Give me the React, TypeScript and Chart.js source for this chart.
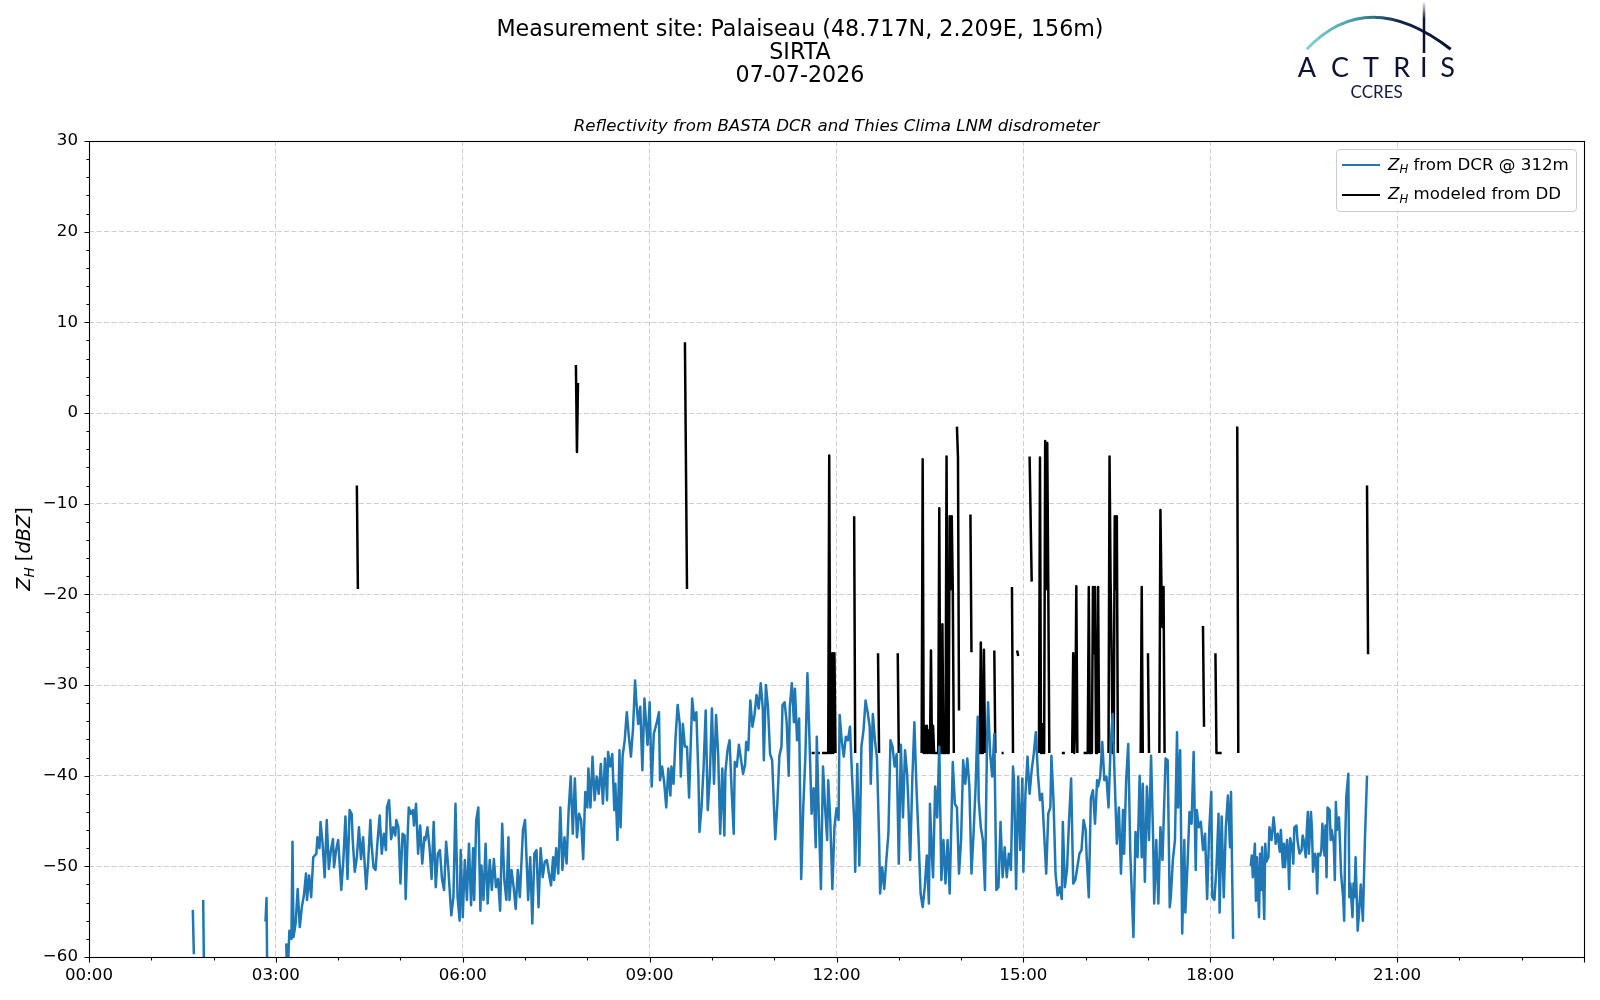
import React, { useEffect, useRef } from 'react';
import { Chart, registerables } from 'chart.js';

Chart.register(...registerables);

type Pt = [number, number | null];

// x values: minutes after 00:00 ; y values: dBZ
const timeTickLabels = ['00:00', '03:00', '06:00', '09:00', '12:00', '15:00', '18:00', '21:00'];
const hourTickMinutes = Array.from({ length: 25 }, (_, i) => i * 60);
const zTickValues = Array.from({ length: 46 }, (_, i) => -60 + 2 * i);

const dcrEarly: Pt[] = [
  [100, -54.8], [101, -59.7], [105, null], [110, -53.7], [111, -64], [140, null],
  [170, -56.1], [171, -53.5], [172, -66], [180, null], [190, -58.5], [191, -63],
];

const dcrMorning: Pt[] = [
  [193, -57.1], [195, -58], [196, -47.3], [197, -57.8], [199, -56.3], [201, -52.5], [203, -56.7], [205, -54.5],
  [207, -53.2], [209, -50.8], [210, -53.7], [212, -51], [214, -53.4], [216, -49], [219, -48.6], [220, -46.8],
  [222, -48], [223, -45.1], [225, -47.5], [227, -51.2], [229, -44.9], [231, -50.3], [233, -48.2], [235, -47],
  [236, -50.1], [238, -48.2], [240, -47.1], [243, -52.6], [245, -49.3], [247, -44.5], [249, -51.4], [251, -43.8],
  [253, -44.2], [254, -47.1], [256, -50.6], [258, -49], [260, -45.7], [262, -49.2], [264, -46.8], [267, -52.5],
  [269, -49.3], [271, -44.9], [272, -47.3], [274, -50.1], [276, -50.4], [278, -47.1], [280, -44.4], [282, -48.6],
  [284, -46.4], [286, -48.2], [287, -43.5], [289, -42.7], [291, -47], [293, -45.7], [295, -46.6], [296, -44.9],
  [298, -45.7], [300, -51.9], [302, -46.4], [304, -46.6], [305, -53.6], [307, -46.4], [308, -43.5], [310, -44.2],
  [312, -43.8], [313, -45.5], [315, -43.1], [317, -48.6], [319, -45.5], [321, -49.7], [323, -46.8], [324, -47.1],
  [326, -45.7], [328, -47.9], [330, -51.4], [332, -45.1], [334, -52.3], [336, -48.6], [338, -48.2], [340, -51.4],
  [342, -52.6], [344, -47.3], [346, -50.1], [348, -53.7],
];

const dcrMidday: Pt[] = [
  [349, -55.4], [351, -53.4], [353, -43.1], [355, -53.4], [357, -56], [358, -48.2], [360, -55.6], [362, -49.3],
  [364, -53.7], [366, -47.5], [368, -54.3], [370, -48], [371, -53.7], [373, -44.9], [375, -43.5], [377, -54.9],
  [378, -49.9], [380, -53.7], [382, -47.5], [384, -54.1], [386, -49.3], [388, -52.6], [390, -49.2], [392, -52.3],
  [394, -51.4], [396, -54.9], [398, -45.3], [400, -51.5], [402, -53.7], [404, -46.8], [405, -53.7], [407, -50.4],
  [409, -52.3], [411, -54.7], [413, -50.4], [415, -53.4], [418, -46], [420, -44.9], [423, -53.7], [425, -49],
  [427, -56.3], [429, -48.6], [431, -48.2], [433, -54.5], [435, -48], [437, -51.2], [439, -49.5], [441, -49.3],
  [443, -50.8], [445, -52.1], [447, -49], [448, -51.5], [450, -48], [452, -50.8], [454, -43.5], [456, -50.4],
  [458, -46.8], [460, -49.7], [462, -43.8], [464, -40.1], [466, -46.4], [468, -40.3], [470, -46.8], [472, -44.2],
  [474, -44.9], [476, -49.2], [478, -41.8], [480, -43.5], [481, -39.2], [483, -43.5], [485, -37.9], [487, -42.7],
  [489, -40.1], [491, -42], [493, -38.7], [495, -43.1], [497, -38.1], [499, -42.7], [500, -37.4], [502, -39],
  [504, -37.6], [506, -43.8], [507, -40.9], [509, -47.1], [511, -37.2], [512, -45.7], [514, -37.8], [516, -36.1],
  [518, -33], [520, -35.7], [522, -37.9], [524, -34.8], [526, -29.5], [527, -31.5], [529, -34.3], [531, -32.4],
  [533, -39.4], [535, -31.5], [536, -33.2], [538, -36.6], [540, -31.9], [542, -41.2], [544, -35.4], [547, -34.1],
  [549, -33], [550, -40.5], [552, -39], [554, -40.7], [556, -43.5], [558, -39.2], [560, -42.2], [561, -39],
  [563, -40.9], [565, -35.7], [567, -32.2], [569, -34.3], [570, -40.1], [572, -34.3], [574, -36.8], [576, -36.8],
  [578, -42.4], [581, -31.5], [583, -33.9], [585, -33], [587, -40.1], [588, -46.2], [590, -43.5], [592, -39],
  [594, -32.8], [596, -43.8], [598, -40.1], [600, -32.6], [602, -40.9], [604, -33.3], [606, -37.6], [608, -46.4],
  [610, -39.2], [612, -46.6], [613, -39.6], [615, -37.2], [617, -36.1], [619, -41.6], [621, -46.4], [622, -38.5],
  [624, -39], [626, -36.6],
];

const dcrNoon: Pt[] = [
  [630, -39.8], [632, -38.7], [633, -36.3], [635, -37.2], [637, -31.7], [639, -34.6], [641, -33.3], [643, -31.1],
  [645, -32.6], [647, -29.8], [649, -32.6], [650, -38.3], [652, -30], [654, -32.4], [656, -37.6], [658, -38.3],
  [659, -41.2], [661, -47], [663, -43.1], [665, -37.8], [667, -36.8], [668, -32.2], [670, -31.9], [672, -34.1],
  [674, -40], [675, -32.4], [677, -29.8], [679, -34.1], [680, -30.4], [682, -36.1], [684, -33.7], [686, -51.4],
  [688, -43.5], [690, -37.9], [692, -28.7], [694, -36.1], [696, -44.2], [698, -41.4], [700, -47.9], [701, -35.7],
  [703, -44.6], [705, -52.5], [707, -39], [709, -43.5], [711, -47.1], [712, -40.5], [714, -44.9], [716, -52.5],
  [718, -45.7], [720, -43.6], [722, -44.9], [723, -33.3], [725, -36.1], [727, -37.9], [729, -35.7], [731, -36.1],
  [733, -34.6], [735, -40.1], [737, -44.9], [738, -50.6], [740, -38.7], [742, -49.9], [744, -36.8], [746, -35],
  [748, -31.7], [750, -33], [752, -34.6], [753, -40.9], [755, -33.2], [757, -36.1], [759, -38.1], [761, -46.8],
  [762, -53], [764, -50.1], [766, -52.5], [768, -49.3], [770, -46.4], [772, -36.1], [774, -36.8], [776, -39],
  [778, -37.6], [780, -49.7], [782, -36.6], [784, -44.6], [786, -37.2], [788, -39.8], [789, -42.4], [791, -49.3],
  [793, -40.5], [795, -34.1], [797, -41.2], [799, -46.8], [801, -53], [803, -54.5], [805, -52.3], [807, -48.8],
  [809, -54.1], [810, -43.1], [812, -49], [813, -51.2], [815, -41.2], [817, -44.6], [819, -36.8], [821, -51.5],
  [823, -47.1], [825, -51.9], [827, -47.1], [829, -53], [831, -43.5], [832, -38.5], [834, -43.1], [836, -43.5],
  [838, -50.8], [840, -47.1], [842, -38.3], [844, -40.9], [846, -38.1], [848, -41.2], [850, -50.8], [852, -46.4],
  [854, -41.2], [856, -33.5], [857, -42.7], [859, -45.7], [861, -47.1], [863, -52.6], [865, -36.1], [866, -31.9],
  [868, -37.6], [870, -40.1], [872, -35.4], [874, -52.6], [876, -52.3], [878, -45.1], [880, -51.2], [882, -47.9],
  [884, -51.2], [886, -48.6], [888, -50.4], [890, -39], [891, -40.5], [893, -52.5], [895, -40.1], [897, -48.2],
  [899, -40.3], [900, -50.6], [902, -42], [904, -37.9], [906, -42], [908, -39.4], [910, -37.6], [912, -35.2],
  [914, -39.8], [916, -42.7],
];

const dcrAfternoon: Pt[] = [
  [918, -42], [920, -46.4], [922, -50.8], [924, -44.2], [926, -43.5], [927, -37.8], [929, -42.7], [931, -50.8],
  [933, -53.2], [935, -52.3], [937, -53.6], [938, -45.1], [940, -52.3], [942, -50.4], [944, -44.9], [946, -40.3],
  [948, -51.9], [950, -51.5], [952, -50.1], [954, -48.6], [956, -48.2], [958, -44.9], [960, -46], [961, -49],
  [963, -53.4], [965, -42.5], [967, -41.6], [969, -45.3], [971, -40.5], [972, -41.2], [974, -40.1], [976, -36.3],
  [978, -40.5], [980, -40.1], [982, -43.5], [984, -36.8], [986, -33.2], [988, -40.5], [990, -47.5], [992, -43.5],
  [994, -50.8], [996, -43.8], [997, -48.6], [999, -40.5], [1001, -36.5], [1003, -48.6], [1006, -57.8], [1008, -46.2],
  [1010, -49], [1012, -40], [1014, -49], [1015, -40.9], [1017, -51.7], [1019, -41.2], [1021, -47.1], [1023, -37.8],
  [1025, -47.1], [1026, -54.1], [1028, -47.1], [1030, -54.1], [1032, -45.7], [1034, -49.3], [1037, -38.1], [1039, -38.3],
  [1041, -54.5], [1042, -53.4], [1044, -49.3], [1046, -47.1], [1048, -35.2], [1049, -43.5], [1051, -37.2], [1053, -57.4],
  [1055, -47.1], [1056, -55.1], [1058, -50.1], [1060, -44], [1062, -45.3], [1064, -37.4], [1066, -50.4], [1067, -43.8],
  [1069, -45.7], [1071, -45.1], [1073, -48.2], [1075, -46.4], [1077, -53.6], [1079, -46], [1081, -41.8], [1082, -53.4],
  [1084, -53.7], [1086, -50.1], [1088, -44.2], [1089, -55.1], [1091, -44.5], [1093, -53.4], [1095, -45.7], [1097, -42.2],
  [1099, -47.9], [1100, -41.8], [1102, -58], [1110, null],
];

const dcrEvening: Pt[] = [
  [1119, -50], [1120, -48.8], [1121, -51.2], [1123, -47.5], [1124, -53.8], [1125, -49], [1127, -55.6], [1128, -48.6],
  [1129, -52.6], [1130, -47.9], [1132, -55.8], [1133, -47.5], [1134, -49.5], [1136, -49], [1137, -45.7], [1138, -46.4],
  [1139, -47.1], [1141, -44.6], [1142, -45.7], [1143, -47.5], [1145, -46.4], [1146, -47.5], [1147, -48.4], [1148, -46],
  [1150, -50.1], [1151, -47.5], [1152, -50.1], [1154, -47.1], [1155, -48.6], [1156, -52.5], [1157, -46.9], [1159, -48],
  [1160, -49.7], [1161, -45.7], [1163, -45.5], [1164, -47.1], [1165, -47.9], [1166, -48.6], [1168, -48.2], [1169, -46.6],
  [1170, -47.1], [1172, -49], [1173, -46], [1174, -44], [1175, -48.6], [1177, -44], [1178, -46], [1179, -50.6],
  [1181, -48.6], [1182, -49.3], [1183, -53], [1184, -48.6], [1186, -48.8], [1187, -48.2], [1188, -45.3], [1190, -48.8],
  [1191, -45.5], [1192, -51.2], [1193, -43.5], [1195, -43.8], [1196, -47.1], [1197, -46], [1199, -47.5], [1200, -51.5],
  [1201, -42.9], [1202, -46], [1204, -44.6], [1205, -47.5], [1206, -50.8], [1208, -53.4], [1209, -56], [1210, -47.1],
  [1211, -42.4], [1213, -39.8], [1214, -53.4], [1215, -51.9], [1217, -55.6], [1218, -51.9], [1219, -53.4], [1220, -49],
  [1222, -57.1], [1223, -55.6], [1225, -52], [1227, -56], [1229, -47], [1231, -40],
];

const ddMorning: Pt[] = [
  [258, -8], [259, -19.4], [260, null],
  [469, 5.3], [470, -4.3], [471, 3.3], [472, null],
  [574, 7.8], [576, -19.4], [577, null],
];

const ddMidday: Pt[] = [
  [696, -37.5], [697, -37.5], [698, -37.5], [699, -37.5], [700, null],
  [701, -37.5], [702, -37.5], [703, -37.5], [704, -37.5], [705, null],
  [706, -37.5], [707, -37.5], [708, -37.5], [709, -37.5], [710, -37.5], [711, -37.5], [712, -37.5],
  [713, -4.7], [714, -37.5], [715, -37.5], [716, -26.5], [717, -37.5], [718, -26.5], [719, -37.5], [720, null],
  [737, -11.4], [738, -37.5], [739, null],
  [760, -26.5], [761, -37.5], [762, null],
  [779, -26.5], [780, -37.5], [781, null],
];

const ddAfternoon: Pt[] = [
  [802, -37.5], [803, -5.1], [804, -37.5], [805, -34.5], [806, -37.5], [807, -34.5], [808, -37.5], [809, -35],
  [810, -37.5], [811, -26.2], [812, -37.5], [813, -34.5], [814, -37.5], [815, -37.5], [816, -37.5], [817, -37.5],
  [818, -37.5], [819, -10.5], [820, -37.5], [821, -37.5], [822, -23.3], [823, -37.5], [824, -37.5], [825, -37.5],
  [826, -4.8], [827, -37.5], [828, -37.5], [829, -11.4], [830, -19.4], [831, -11.4], [832, -19.4], [833, -37.5],
  [834, null],
  [836, -1.5], [837, -4.9], [838, -32.8], [839, null],
  [849, -11.2], [850, -26.4], [851, null],
  [856, -37.5], [857, -37.5], [858, -37.5], [859, -25.3], [860, -37.5], [861, -37.5], [862, -26.1], [863, -37.5],
  [864, null],
  [872, -26.2], [873, -37.5], [874, null],
  [879, -37.5], [880, -37.5], [881, -37.5], [882, null],
  [889, -19.2], [890, -37.5], [891, null],
  [894, -26.2], [895, -26.8], [896, null],
];

const ddLate: Pt[] = [
  [906, -4.8], [908, -18.6], [909, null],
  [915, -37.5], [916, -4.9], [917, -37.5], [918, -37.5], [919, -34.3], [920, -37.5], [921, -3.1], [922, -19.4],
  [923, -3.3], [924, -19.4], [925, -37.5], [926, null],
  [937, -37.5], [938, -37.5], [939, -37.5], [940, -37.5], [941, null],
  [947, -37.5], [948, -26.5], [949, -37.5], [950, -34.4], [951, -19.1], [952, -37.5], [953, null],
  [958, -37.5], [959, -37.5], [960, -37.5], [961, -37.5], [962, -37.5], [963, -19.2], [964, -37.5], [965, -37.5],
  [966, -37.5], [967, -19.2], [968, -26.5], [969, -19.2], [970, -37.5], [971, -37.5], [972, -19.2], [973, -37.5],
  [974, null],
  [982, -37.5], [983, -4.8], [984, -18.5], [985, -26.7], [986, -37.5], [987, -37.5], [988, -11.4], [989, -19.4],
  [990, -11.4], [991, -37.5], [992, null],
  [1013, -37.5], [1014, -19.2], [1015, -37.5], [1016, null],
  [1020, -26.5], [1021, -37.5], [1022, null],
  [1031, -37.5], [1032, -10.7], [1033, -19.2], [1034, -23.6], [1035, -19.2], [1036, -37.5], [1037, null],
  [1073, -23.5], [1074, -34.6], [1075, null],
  [1085, -26.5], [1086, -37.5], [1087, -37.5], [1088, -37.5], [1089, -37.5], [1090, -37.5], [1091, -37.5], [1092, null],
  [1106, -1.5], [1107, -37.5], [1108, null],
  [1231, -8], [1232, -26.6],
];

const FONT = '"DejaVu Sans", "Liberation Sans", sans-serif';
const GRID = '#cfcfcf';
const LINE_W = 2.5;

const frameTicksPlugin = {
  id: 'frameTicks',
  afterDraw(chart: any) {
    const { ctx, chartArea: a, scales } = chart;
    const x = scales.x;
    const y = scales.y;
    const L = Math.round(a.left) + 0.5;
    const R = Math.round(a.right) + 0.5;
    const T = Math.round(a.top) + 0.5;
    const B = Math.round(a.bottom) + 0.5;
    ctx.save();
    ctx.strokeStyle = '#000';
    ctx.lineWidth = 1.1;
    ctx.strokeRect(L, T, R - L, B - T);
    ctx.beginPath();
    hourTickMinutes.forEach((m) => {
      const px = Math.round(x.getPixelForValue(m)) + 0.5;
      const len = m % 180 === 0 ? 5 : 3;
      ctx.moveTo(px, B);
      ctx.lineTo(px, B + len);
    });
    zTickValues.forEach((v) => {
      const py = Math.round(y.getPixelForValue(v)) + 0.5;
      const len = v % 10 === 0 ? 5 : 3;
      ctx.moveTo(L, py);
      ctx.lineTo(L - len, py);
    });
    ctx.stroke();
    ctx.restore();
  },
};

const sub: React.CSSProperties = { fontSize: '70%', position: 'relative', top: '0.3em', fontStyle: 'italic' };

export default function App() {
  const ref = useRef<HTMLCanvasElement>(null);

  useEffect(() => {
    const toXY = (pts: Pt[]) => pts.map(([x, y]) => ({ x, y }));
    const dcr = toXY([...dcrEarly, ...dcrMorning, ...dcrMidday, ...dcrNoon, ...dcrAfternoon, ...dcrEvening]);
    const dd = toXY([...ddMorning, ...ddMidday, ...ddAfternoon, ...ddLate]);

    const chart = new Chart(ref.current as HTMLCanvasElement, {
      type: 'line',
      data: {
        datasets: [
          {
            label: 'Z_H from DCR @ 312m',
            data: dcr as any,
            borderColor: '#1f77b4',
            backgroundColor: '#1f77b4',
            borderWidth: LINE_W,
            pointRadius: 0,
            tension: 0,
            spanGaps: false,
            borderJoinStyle: 'round',
            borderCapStyle: 'butt',
            clip: 0,
          },
          {
            label: 'Z_H modeled from DD',
            data: dd as any,
            borderColor: '#000000',
            backgroundColor: '#000000',
            borderWidth: LINE_W,
            pointRadius: 0,
            tension: 0,
            spanGaps: false,
            borderJoinStyle: 'round',
            borderCapStyle: 'butt',
            clip: 0,
          },
        ],
      },
      options: {
        animation: false,
        responsive: false,
        devicePixelRatio: 1,
        events: [],
        layout: { padding: { left: 0, top: 141, right: 16, bottom: 0 } },
        plugins: {
          legend: { display: false },
          title: { display: false },
          tooltip: { enabled: false },
        },
        scales: {
          x: {
            type: 'linear',
            min: 0,
            max: 1440,
            afterBuildTicks: (s: any) => {
              s.ticks = hourTickMinutes.map((v) => ({ value: v }));
            },
            afterFit: (s: any) => {
              s.height = 43;
            },
            ticks: {
              autoSkip: false,
              maxRotation: 0,
              minRotation: 0,
              padding: 9,
              color: '#000',
              font: { family: FONT, size: 16.67 },
              callback: (v: any) => (v % 180 === 0 && v < 1440 ? timeTickLabels[v / 180] : ''),
            },
            grid: {
              drawTicks: false,
              lineWidth: 1,
              color: (c: any) => {
                const v = c.tick ? c.tick.value : -1;
                return v > 0 && v < 1440 && v % 180 === 0 ? GRID : 'rgba(0,0,0,0)';
              },
            },
            border: { display: false, dash: [5, 2.5] },
          },
          y: {
            type: 'linear',
            min: -60,
            max: 30,
            afterBuildTicks: (s: any) => {
              s.ticks = zTickValues.map((v) => ({ value: v }));
            },
            afterFit: (s: any) => {
              s.width = 89;
            },
            ticks: {
              autoSkip: false,
              padding: 11,
              color: '#000',
              font: { family: FONT, size: 16.67 },
              callback: (v: any) => (v % 10 === 0 ? (v < 0 ? '\u2212' + Math.abs(v) : String(v)) : ''),
            },
            grid: {
              drawTicks: false,
              lineWidth: 1,
              color: (c: any) => {
                const v = c.tick ? c.tick.value : -100;
                return v > -60 && v < 30 && v % 10 === 0 ? GRID : 'rgba(0,0,0,0)';
              },
            },
            border: { display: false, dash: [5, 2.5] },
          },
        },
      },
      plugins: [frameTicksPlugin],
    });
    return () => chart.destroy();
  }, []);

  const lineDiv = (top: number, text: string, size: number): React.ReactElement => (
    <div
      style={{
        position: 'absolute',
        left: 0,
        top,
        width: 1600,
        textAlign: 'center',
        fontFamily: FONT,
        fontSize: size,
        lineHeight: '26px',
        color: '#000',
        whiteSpace: 'nowrap',
      }}
    >
      {text}
    </div>
  );

  return (
    <div style={{ position: 'absolute', left: 0, top: 0, width: 1600, height: 1000, background: '#fff', overflow: 'hidden' }}>
      <canvas ref={ref} width={1600} height={1000} style={{ position: 'absolute', left: 0, top: 0, width: 1600, height: 1000 }} />

      {lineDiv(15, 'Measurement site: Palaiseau (48.717N, 2.209E, 156m)', 22.2)}
      {lineDiv(38, 'SIRTA', 22.2)}
      {lineDiv(61, '07-07-2026', 22.2)}

      <div
        style={{
          position: 'absolute',
          left: 0,
          top: 116,
          width: 1673,
          textAlign: 'center',
          fontFamily: FONT,
          fontStyle: 'italic',
          fontSize: 16.67,
          lineHeight: '20px',
          whiteSpace: 'nowrap',
          color: '#000',
        }}
      >
        Reflectivity from BASTA DCR and Thies Clima LNM disdrometer
      </div>

      <div
        style={{
          position: 'absolute',
          left: 23.5 - 100,
          top: 549 - 12,
          width: 200,
          height: 24,
          lineHeight: '24px',
          textAlign: 'center',
          transform: 'rotate(-90deg)',
          fontFamily: FONT,
          fontSize: 19.4,
          color: '#000',
          whiteSpace: 'nowrap',
        }}
      >
        <i>Z</i>
        <span style={sub}>H</span> [<i>dBZ</i>]
      </div>

      <div
        style={{
          position: 'absolute',
          left: 1336,
          top: 149,
          width: 239,
          height: 61,
          border: '1px solid #cccccc',
          borderRadius: 4,
          background: 'rgba(255,255,255,0.8)',
          fontFamily: FONT,
          fontSize: 16.67,
          color: '#000',
        }}
      >
        <div style={{ position: 'absolute', left: 5, top: 13.8, width: 38, height: LINE_W, background: '#1f77b4' }} />
        <div style={{ position: 'absolute', left: 51, top: 4.5, lineHeight: '20px', whiteSpace: 'nowrap' }}>
          <i>Z</i>
          <span style={sub}>H</span> from DCR @ 312m
        </div>
        <div style={{ position: 'absolute', left: 5, top: 43.5, width: 38, height: LINE_W, background: '#000' }} />
        <div style={{ position: 'absolute', left: 51, top: 34, lineHeight: '20px', whiteSpace: 'nowrap' }}>
          <i>Z</i>
          <span style={sub}>H</span> modeled from DD
        </div>
      </div>

      <svg width={1600} height={130} style={{ position: 'absolute', left: 0, top: 0, pointerEvents: 'none' }}>
        <defs>
          <linearGradient id="arcGrad" x1="1306" y1="0" x2="1451" y2="0" gradientUnits="userSpaceOnUse">
            <stop offset="0" stopColor="#8ad4cf" />
            <stop offset="0.35" stopColor="#3f9aa6" />
            <stop offset="0.65" stopColor="#142448" />
            <stop offset="1" stopColor="#0b1030" />
          </linearGradient>
          <linearGradient id="mastGrad" x1="0" y1="1" x2="0" y2="53" gradientUnits="userSpaceOnUse">
            <stop offset="0" stopColor="#0b1030" stopOpacity="0" />
            <stop offset="0.35" stopColor="#0b1030" stopOpacity="1" />
            <stop offset="1" stopColor="#0b1030" stopOpacity="1" />
          </linearGradient>
        </defs>
        <path d="M1306.7 49.3 Q1367.8 -14.7 1450.7 49.3" stroke="url(#arcGrad)" strokeWidth={3} fill="none" />
        <line x1={1424} y1={1} x2={1424} y2={53} stroke="url(#mastGrad)" strokeWidth={2.5} />
        <g fill="#0e1233" fontFamily="Lato, 'Open Sans', sans-serif" fontSize={27} textAnchor="middle">
          <text x={1307} y={77.3}>A</text>
          <text x={1340} y={77.3}>C</text>
          <text x={1371} y={77.3}>T</text>
          <text x={1401.7} y={77.3}>R</text>
          <text x={1423.7} y={77.3}>I</text>
          <text x={1447.5} y={77.3}>S</text>
        </g>
        <text x={1376.7} y={98.3} fill="#141a3c" fontFamily="Lato, 'Open Sans', sans-serif" fontSize={17} textAnchor="middle">
          CCRES
        </text>
      </svg>
    </div>
  );
}
